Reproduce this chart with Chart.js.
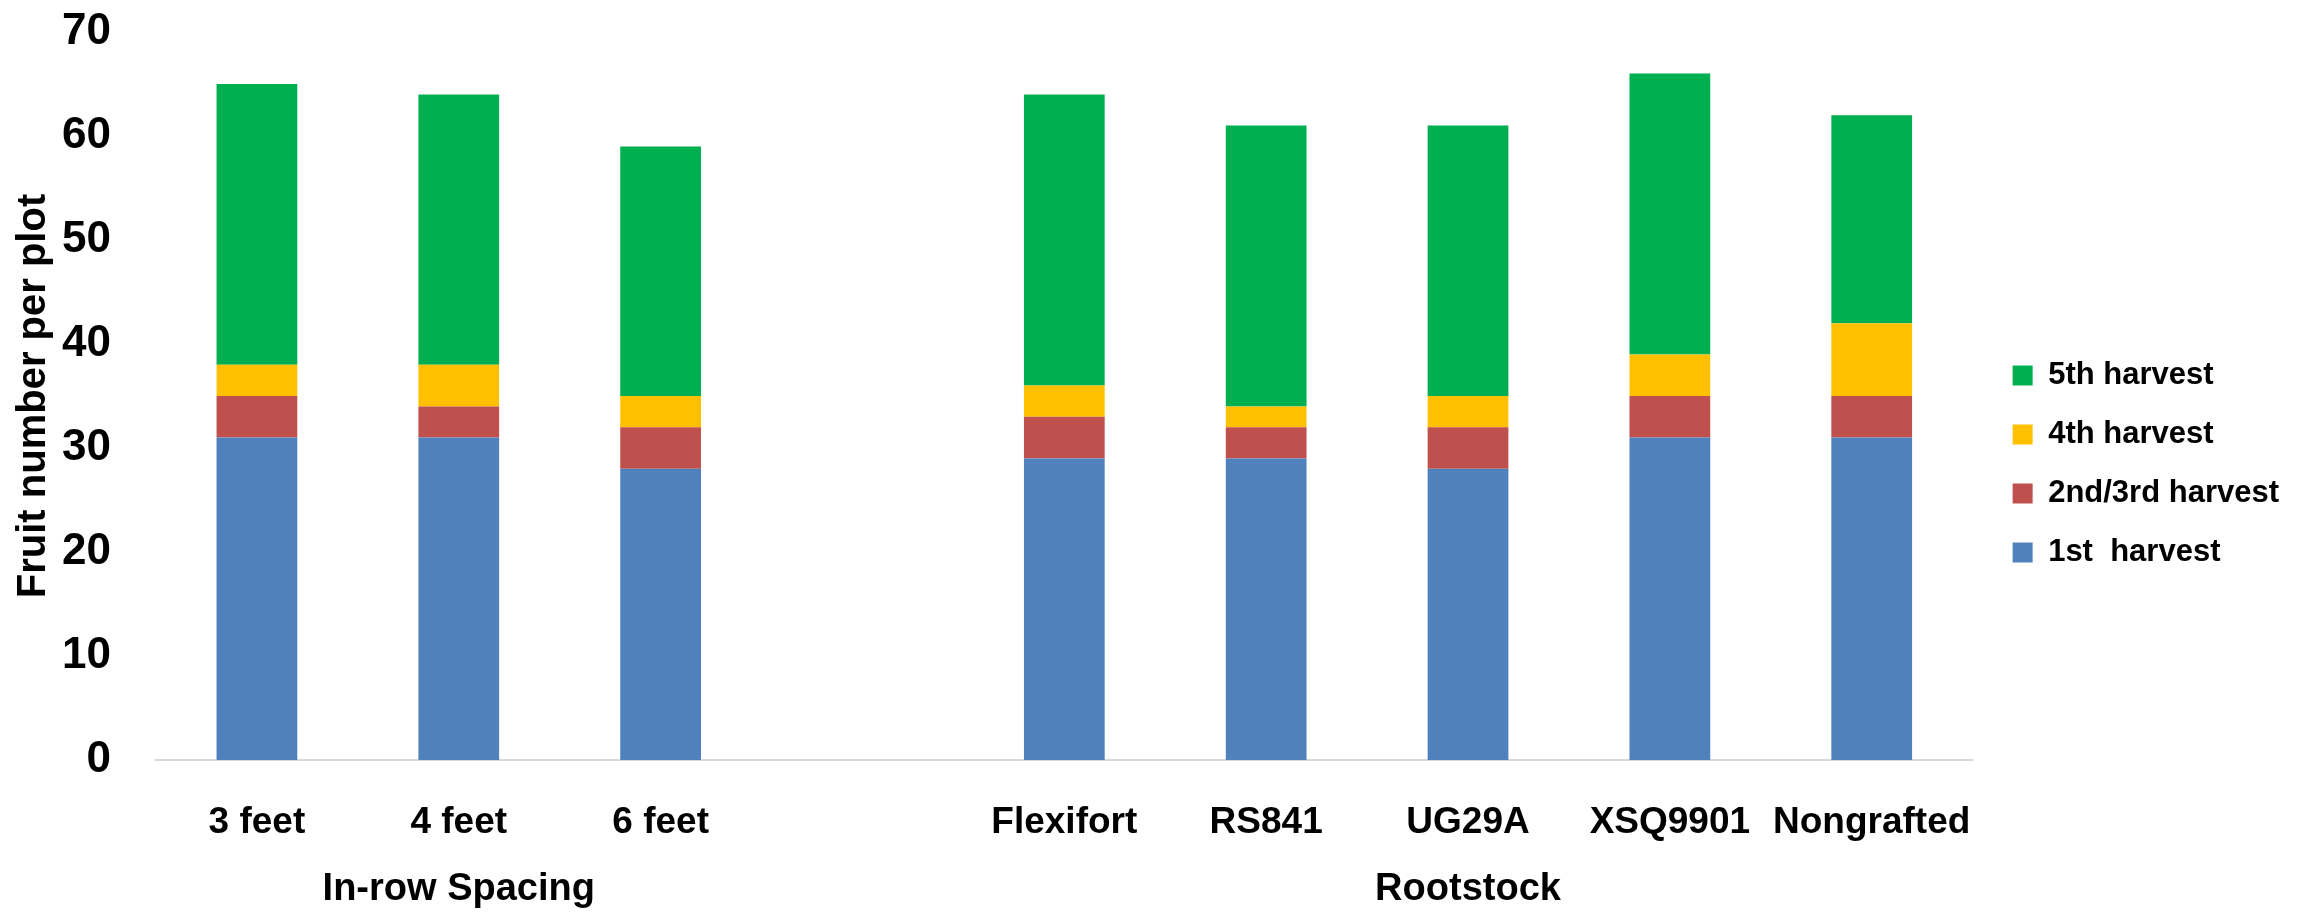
<!DOCTYPE html>
<html>
<head>
<meta charset="utf-8">
<script src="https://cdn.jsdelivr.net/npm/chart.js@4"></script>
<style>
    html, body { margin: 0; padding: 0; background: #ffffff; }
    #wrap { width: 2305px; height: 912px; }
</style>
</head>
<body>
<div id="wrap"><canvas id="fruit_chart"></canvas></div>
<script>
// Categories, the empty one keeps the gap between the two groups.
var categories = ['3 feet', '4 feet', '6 feet', '', 'Flexifort', 'RS841', 'UG29A', 'XSQ9901', 'Nongrafted'];

// Fruit number per plot for each harvest, stacked.
var harvest_1st = [31, 31, 28, null, 29, 29, 28, 31, 31];
var harvest_2nd_3rd = [4, 3, 4, null, 4, 3, 4, 4, 4];
var harvest_4th = [3, 4, 3, null, 3, 2, 3, 4, 7];
var harvest_5th = [27, 26, 24, null, 28, 27, 26, 27, 20];

// Group labels under the categories (index of first and last category).
var group_labels = ['In-row Spacing', 'Rootstock'];
var group_first = [0, 4];
var group_last = [2, 8];

var y_ticks = [0, 10, 20, 30, 40, 50, 60, 70];

var FONT = "'Liberation Sans', Arial, sans-serif";

// Draws the group names below the tick labels.
var groupLabelPlugin = {
    id: 'groupLabels',
    afterDraw(chart) {
        const ctx = chart.ctx;
        const x = chart.scales.x;
        ctx.save();
        ctx.font = 'bold 38px ' + FONT;
        ctx.fillStyle = '#000000';
        ctx.textAlign = 'center';
        ctx.textBaseline = 'alphabetic';
        for (let i = 0; i < group_labels.length; i++) {
            const mid = (x.getPixelForValue(group_first[i]) + x.getPixelForValue(group_last[i])) / 2;
            ctx.fillText(group_labels[i], mid, chart.chartArea.bottom + 140);
        }
        ctx.restore();
    }
};

// Nudge the legend a little to the right of the plot area.
var legendShiftPlugin = {
    id: 'legendShift',
    afterLayout(chart) {
        chart.legend.left += 12;
        chart.legend.right += 12;
    }
};

new Chart(document.getElementById('fruit_chart'), {
    type: 'bar',
    data: {
        labels: categories,
        datasets: [
            { label: '1st  harvest', data: harvest_1st, backgroundColor: '#4F81BD' },
            { label: '2nd/3rd harvest', data: harvest_2nd_3rd, backgroundColor: '#C0504D' },
            { label: '4th harvest', data: harvest_4th, backgroundColor: '#FFC000' },
            { label: '5th harvest', data: harvest_5th, backgroundColor: '#00B050' }
        ]
    },
    options: {
        responsive: true,
        maintainAspectRatio: false,
        animation: false,
        datasets: {
            bar: {
                categoryPercentage: 1.0,
                barPercentage: 0.4
            }
        },
        layout: {
            padding: { left: 10, right: 28, top: 0, bottom: 0 }
        },
        scales: {
            x: {
                stacked: true,
                grid: { display: false, drawTicks: false },
                border: { display: true, color: '#D9D9D9', width: 2 },
                ticks: {
                    color: '#000000',
                    font: { family: FONT, size: 37, weight: 'bold' },
                    padding: 41,
                    maxRotation: 0,
                    autoSkip: false
                },
                // Leave room for the group labels under the ticks.
                afterFit(scale) {
                    scale.height = 152;
                }
            },
            y: {
                stacked: true,
                min: 0,
                max: 70,
                grid: { display: false, drawTicks: false },
                border: { display: false },
                afterBuildTicks(scale) {
                    scale.ticks = y_ticks.map(v => ({ value: v }));
                },
                afterFit(scale) {
                    scale.width = 146;
                    scale.paddingTop = 32;
                },
                ticks: {
                    color: '#000000',
                    font: { family: FONT, size: 44, weight: 'bold' },
                    padding: 45
                },
                title: {
                    display: true,
                    text: 'Fruit number per plot',
                    color: '#000000',
                    font: { family: FONT, size: 40, weight: 'bold' },
                    padding: { top: 0, bottom: 0 }
                }
            }
        },
        plugins: {
            legend: {
                position: 'right',
                reverse: true,
                align: 'center',
                title: {
                    display: true,
                    text: ' ',
                    font: { size: 10 },
                    padding: { top: 4, bottom: 0 }
                },
                labels: {
                    color: '#000000',
                    font: { family: FONT, size: 31, weight: 'bold' },
                    boxWidth: 20,
                    boxHeight: 20,
                    padding: 28
                }
            },
            tooltip: { enabled: false }
        }
    },
    plugins: [groupLabelPlugin, legendShiftPlugin]
});
</script>
</body>
</html>
